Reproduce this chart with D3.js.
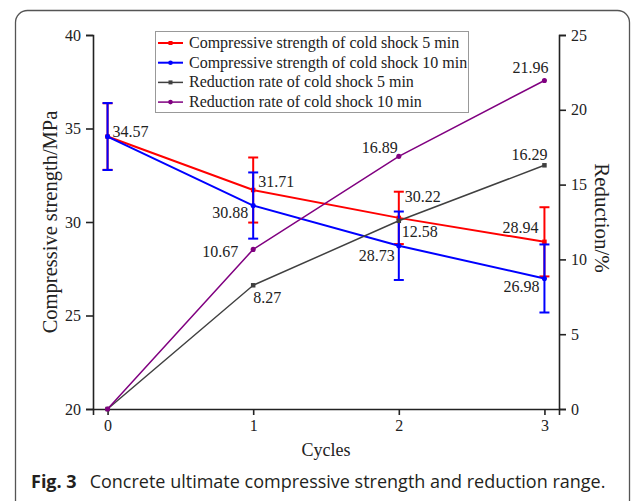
<!DOCTYPE html>
<meta charset="utf-8">
<head>
<style>
  body { margin: 0; background: #fff; }
  text { font-family: "Liberation Serif", "Times New Roman", serif; fill: #222; }
</style>
</head>
<body>
<div id="chartId"></div>
</body>
<script src="https://cdn.jsdelivr.net/npm/d3@7/dist/d3.min.js"></script>
<script>

// Data
var cycles = [0, 1, 2, 3];
var strength5 = [34.57, 31.71, 30.22, 28.94];
var strength10 = [34.57, 30.88, 28.73, 26.98];
var err5 = [1.78, 1.74, 1.40, 1.85];
var err10 = [1.79, 1.77, 1.83, 1.82];
var reduction5 = [0, 8.27, 12.58, 16.29];
var reduction10 = [0, 10.67, 16.89, 21.96];
var leftTicks = [20, 25, 30, 35, 40];
var rightTicks = [0, 5, 10, 15, 20, 25];
var legendNames = [
  "Compressive strength of cold shock 5 min",
  "Compressive strength of cold shock 10 min",
  "Reduction rate of cold shock 5 min",
  "Reduction rate of cold shock 10 min"
];

var width = 635, height = 501;

var svg = d3.select("#chartId").append("svg")
  .attr("width", width)
  .attr("height", height);

// frame round the figure
svg.append("rect")
  .attr("x", 15.5).attr("y", 10.5)
  .attr("width", 614).attr("height", 530)
  .attr("rx", 12)
  .attr("fill", "none")
  .attr("stroke", "#555")
  .attr("stroke-width", 1.3);

var plot = { left: 93, right: 559, top: 35, bottom: 409 };

var x = d3.scaleLinear().domain([-0.1, 3.1]).range([plot.left, plot.right]);
var yL = d3.scaleLinear().domain([20, 40]).range([plot.bottom, plot.top]);
var yR = d3.scaleLinear().domain([0, 25]).range([plot.bottom, plot.top]);

function styleAxis(g) {
  g.attr("font-family", null);
  g.selectAll("path, line").attr("stroke", "#222").attr("stroke-width", 1.6);
  g.selectAll("text").attr("font-size", 16).attr("fill", "#222");
}

svg.append("g")
  .attr("transform", "translate(0," + plot.bottom + ")")
  .call(d3.axisBottom(x).tickValues(cycles).tickFormat(d3.format("d")).tickSizeOuter(0).tickSize(6).tickPadding(5))
  .call(styleAxis);

svg.append("g")
  .attr("transform", "translate(" + plot.left + ",0)")
  .call(d3.axisLeft(yL).tickValues(leftTicks).tickSizeOuter(0).tickSize(7).tickPadding(5))
  .call(styleAxis);

svg.append("g")
  .attr("transform", "translate(" + plot.right + ",0)")
  .call(d3.axisRight(yR).tickValues(rightTicks).tickSizeOuter(0).tickSize(7).tickPadding(5))
  .call(styleAxis);

// axis titles
svg.append("text")
  .attr("x", 326).attr("y", 456)
  .attr("text-anchor", "middle")
  .attr("font-size", 18)
  .text("Cycles");

svg.append("text")
  .attr("transform", "translate(57,222) rotate(-90)")
  .attr("text-anchor", "middle")
  .attr("font-size", 20.5)
  .text("Compressive strength/MPa");

svg.append("text")
  .attr("transform", "translate(595,218) rotate(90)")
  .attr("text-anchor", "middle")
  .attr("font-size", 21)
  .text("Reduction/%");

// series
var series = [
  { v: strength5, y: yL, color: "#ff0000", w: 2, shape: "square", err: err5 },
  { v: strength10, y: yL, color: "#0000ff", w: 2, shape: "circle", err: err10 },
  { v: reduction5, y: yR, color: "#404040", w: 1.5, shape: "square" },
  { v: reduction10, y: yR, color: "#800080", w: 1.5, shape: "circle" }
];

// label placements: [dx, dy, anchor]
var labelPos = [
  [[5, 0, "start"], [5, -3, "start"], [6, -16, "start"], [-6, -9, "end"]],
  [null, [-5, 12.5, "end"], [-4, 15, "end"], [-5, 13.5, "end"]],
  [null, [0, 18, "start"], [3, 16, "start"], [3, -5, "end"]],
  [null, [-15, 8, "end"], [-1, -3, "end"], [4, -7.5, "end"]]
];

function drawMarker(g, s, px, py, size) {
  if (s.shape === "square") {
    g.append("rect")
      .attr("x", px - size / 2).attr("y", py - size / 2)
      .attr("width", size).attr("height", size)
      .attr("fill", s.color);
  } else {
    g.append("circle")
      .attr("cx", px).attr("cy", py).attr("r", size / 2 + 0.3)
      .attr("fill", s.color);
  }
}

var line = d3.line();

series.forEach(function(s, si) {
  var g = svg.append("g");
  g.append("path")
    .attr("d", line(cycles.map(function(c, i) { return [x(c), s.y(s.v[i])]; })))
    .attr("fill", "none")
    .attr("stroke", s.color)
    .attr("stroke-width", s.w);

  if (s.err) {
    cycles.forEach(function(c, i) {
      var px = x(c), top = s.y(s.v[i] + s.err[i]), bot = s.y(s.v[i] - s.err[i]);
      g.append("line").attr("x1", px).attr("x2", px).attr("y1", top).attr("y2", bot)
        .attr("stroke", s.color).attr("stroke-width", 2);
      [top, bot].forEach(function(yy) {
        g.append("line").attr("x1", px - 5).attr("x2", px + 5).attr("y1", yy).attr("y2", yy)
          .attr("stroke", s.color).attr("stroke-width", 2);
      });
    });
  }

  cycles.forEach(function(c, i) {
    drawMarker(g, s, x(c), s.y(s.v[i]), 4.5);
  });
});

// value labels on top
series.forEach(function(s, si) {
  cycles.forEach(function(c, i) {
    var p = labelPos[si][i];
    if (!p) return;
    svg.append("text")
      .attr("x", x(c) + p[0])
      .attr("y", s.y(s.v[i]) + p[1])
      .attr("text-anchor", p[2])
      .attr("font-size", 16)
      .text(s.v[i].toFixed(2));
  });
});

// legend
var legend = svg.append("g");
legend.append("rect")
  .attr("x", 155.5).attr("y", 31.5)
  .attr("width", 313).attr("height", 81)
  .attr("fill", "#fff")
  .attr("stroke", "#999")
  .attr("stroke-width", 1);

legendNames.forEach(function(name, i) {
  var s = series[i], ly = 43 + i * 19.7;
  legend.append("line")
    .attr("x1", 158).attr("x2", 183).attr("y1", ly).attr("y2", ly)
    .attr("stroke", s.color).attr("stroke-width", s.w);
  drawMarker(legend, s, 170.5, ly, 4);
  legend.append("text")
    .attr("x", 189).attr("y", ly + 5)
    .attr("font-size", 16)
    .text(name);
});

// caption
var cap = svg.append("text")
  .attr("x", 31).attr("y", 488)
  .attr("font-size", 18)
  .style("font-family", "'Open Sans', sans-serif")
  .style("fill", "#231f20");
cap.append("tspan").attr("font-weight", "bold").text("Fig. 3");
cap.append("tspan").attr("dx", 13).text("Concrete ultimate compressive strength and reduction range.");

</script>
